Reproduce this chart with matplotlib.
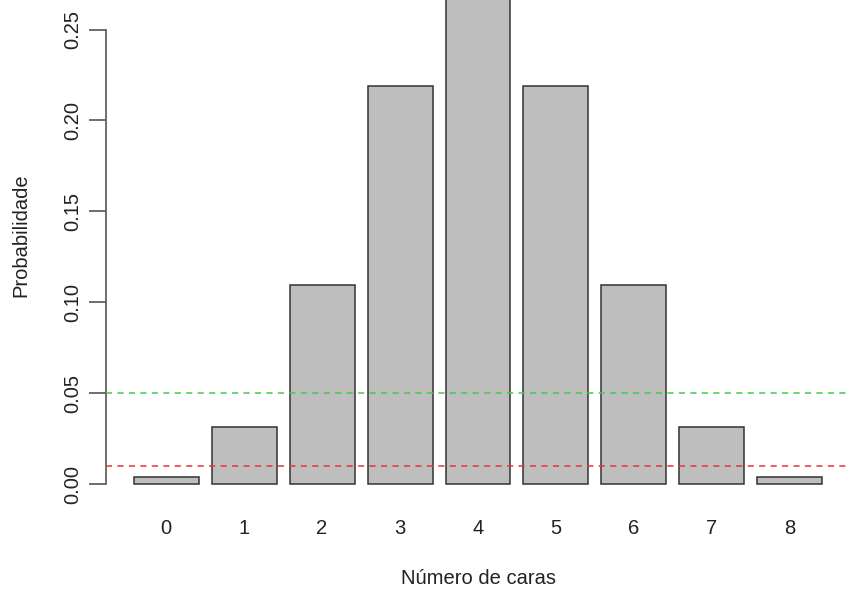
import matplotlib
matplotlib.use("Agg")
import matplotlib.pyplot as plt
import numpy as np

plt.rcParams['font.family'] = ['Liberation Sans', 'DejaVu Sans']

# binomial(8, 0.5) probabilities
caras = ['0', '1', '2', '3', '4', '5', '6', '7', '8']
probs = [0.00390625, 0.03125, 0.109375, 0.21875, 0.2734375,
         0.21875, 0.109375, 0.03125, 0.00390625]
yticks = [0.00, 0.05, 0.10, 0.15, 0.20, 0.25]
linhas = [0.05, 0.01]
cores_linhas = ['#3dcf3d', '#e8333d']

W, H = 847, 589
fig = plt.figure(figsize=(W / 100, H / 100), dpi=100)
# plot region (in pixels) extends past the cropped top/right edges
left, right, bottom, top = 106, 850, 504, -33
ax = fig.add_axes([left / W, (H - bottom) / H, (right - left) / W, (bottom - top) / H])

# R barplot layout: width 1, space 0.2
x = 0.2 + 1.2 * np.arange(len(probs)) + 0.5
ax.bar(x, probs, width=1.0, color='#bebebe', edgecolor='#333333', linewidth=1.1, zorder=2)

ymax = max(probs)
ax.set_xlim(0.2 - 0.04 * 10.6, 10.8 + 0.04 * 10.6)
ax.set_ylim(-0.04 * ymax, ymax * 1.04)

for v, c in zip(linhas, cores_linhas):
    ax.axhline(v, color=c, linestyle=(0, (4, 3.5)), linewidth=1.1, zorder=3)

for s in ['top', 'right', 'bottom']:
    ax.spines[s].set_visible(False)
ax.spines['left'].set_bounds(0, 0.25)
ax.spines['left'].set_color('#555555')
ax.spines['left'].set_linewidth(1.2)

fs = 14.5
ax.set_yticks(yticks)
ax.set_yticklabels(['%.2f' % t for t in yticks], rotation=90, va='center', fontsize=fs, color='#222222')
ax.tick_params(axis='y', length=12, width=1.2, color='#555555', pad=5)

ax.set_xticks(x)
ax.set_xticklabels(caras, fontsize=fs, color='#222222')
ax.tick_params(axis='x', length=0, pad=11)

ax.set_ylabel('Probabilidade', fontsize=fs, color='#222222', labelpad=24)
ax.set_xlabel('Número de caras', fontsize=fs, color='#222222', labelpad=22)

fig.savefig('out.png', dpi=100)
